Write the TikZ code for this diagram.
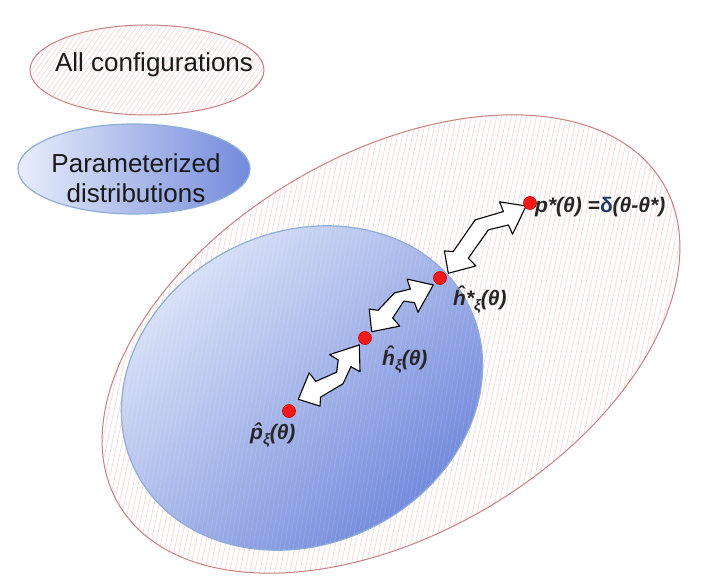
\documentclass[tikz,border=0pt]{standalone}
\usepackage{fontspec}
\setmainfont{Liberation Sans}
\usetikzlibrary{calc}
\definecolor{hatchpink}{HTML}{F8D2D2}
\definecolor{rimred}{HTML}{C98080}
\definecolor{bluelight}{HTML}{E2E9F9}
\definecolor{bluedark}{HTML}{6C84DA}
\definecolor{bluerim}{HTML}{8EADD8}
\definecolor{navy}{HTML}{1F3864}
\definecolor{labelgray}{HTML}{262626}
\definecolor{dotred}{HTML}{F01A1A}
\tikzset{
  rim/.style={draw=rimred, line width=1pt},
  hatchline/.style={draw=hatchpink, line width=0.6pt},
  bluerimstyle/.style={draw=bluerim, line width=1.2pt},
  redspot/.style={circle, fill=dotred, draw=red!80!black, line width=0.6pt, minimum size=13pt, inner sep=0pt},
  mathlabel/.style={font=\fontsize{21}{24}\selectfont\bfseries\itshape, text=labelgray, inner sep=0pt},
  bigtext/.style={font=\fontsize{26}{30}\selectfont, text=black!90, inner sep=0pt},
  blockarrow/.style={fill=white, draw=black, line width=1.1pt, line join=round},
}
\newcommand{\subxi}{\raisebox{-0.28em}{\fontsize{15}{15}\selectfont ξ}}
\newcommand{\bentarrow}[4]{%
  \begin{scope}[shift={(#1)}, rotate=#2, yscale=#4]
    \pgfmathsetmacro{\bentL}{#3}
    \pgfmathsetmacro{\bentK}{#3/102.8}
    \filldraw[blockarrow] (0,0) -- (11.7,19.5) -- (18,13.2)
      -- ({0.537*\bentL},{22.8*\bentK}) -- ({\bentL-20.7},10.6) -- ({\bentL-17.3},20.5)
      -- (\bentL,0) -- ({\bentL-28.6},-12.5) -- ({\bentL-25.7},-2.8)
      -- ({0.571*\bentL},{6.6*\bentK}) -- (25,-1.7) -- (25.7,-12.5) -- cycle;
  \end{scope}}
\begin{document}
\begin{tikzpicture}[x=1pt,y=1pt]
\fill[white] (0,0) rectangle (703,584);
\useasboundingbox (0,0) rectangle (703,584);

% All configurations ellipse
\begin{scope}
  \clip (147,514) ellipse (117pt and 45pt);
  \foreach \i in {0,...,72} \draw[hatchline] ({-60+\i*5},455) -- ++(55:140);
\end{scope}
\draw[rim] (147,514) ellipse (117pt and 45pt);
\node[bigtext, anchor=base] (allconf) at (154,512) {All configurations};

% Parameterized distributions ellipse
\begin{scope}
  \clip (134,415) ellipse (116pt and 45pt);
  \shade[left color=bluelight!80!white, right color=bluedark!95!white] (18,370) rectangle (250,460);
\end{scope}
\draw[bluerimstyle] (134,415) ellipse (116pt and 45pt);
\node[bigtext, align=center, anchor=center] (paramd) at (136,406) {Parameterized\\distributions};

% big configuration space
\begin{scope}
  \clip[rotate around={30.5:(391,240)}] (391,240) ellipse (316pt and 190pt);
  \foreach \i in {0,...,160} \draw[hatchline] ({-80+\i*5},-10) -- ++(78:520);
\end{scope}
\draw[rim, rotate around={30.5:(391,240)}] (391,240) ellipse (316pt and 190pt);

% parameterized family
\begin{scope}
  \clip[rotate around={26:(302,196)}] (302,196) ellipse (186pt and 156pt);
  \shade[top color=bluelight, bottom color=bluedark, shading angle=45] (100,20) rectangle (500,380);
  \foreach \i in {0,...,110} \draw[white, opacity=0.12, line width=0.8pt] ({60+\i*4.5},-10) -- ++(80:420);
\end{scope}
\draw[bluerimstyle, rotate around={26:(302,196)}] (302,196) ellipse (186pt and 156pt);

% arrow end points
\coordinate (a1s) at (298.3,184.7);
\coordinate (a2s) at (371.7,252.3);
\coordinate (a3s) at (448.3,310.7);

\bentarrow{a1s}{41.7}{81.7}{-1}
\bentarrow{a2s}{37.2}{77.3}{1}
\bentarrow{a3s}{40.9}{102.8}{1}

% points
\node[redspot] (ph) at (289,173) {};
\node[redspot] (hh) at (365,246) {};
\node[redspot] (hs) at (440,306) {};
\node[redspot] (ps) at (530,381) {};

% labels
\node[mathlabel, anchor=base west] (lph) at (250,145) {p̂\subxi(θ)};
\node[mathlabel, anchor=base west] (lhh) at (382,219) {ĥ\subxi(θ)};
\node[mathlabel, anchor=base west] (lhs) at (453,279) {ĥ*\subxi(θ)};
\node[mathlabel, anchor=base west] (lps) at (535,371) {p*(θ) =\textcolor{navy}{\upshape δ}(θ-θ*)};
\end{tikzpicture}
\end{document}
